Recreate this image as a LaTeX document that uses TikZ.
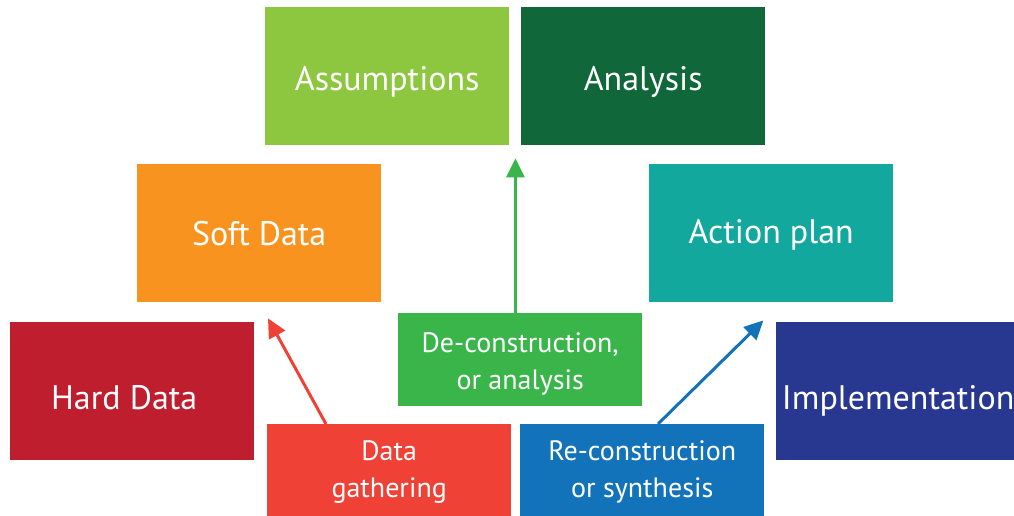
\documentclass[tikz,border=0pt]{standalone}
\usepackage{fontspec}
\setmainfont{PT Sans}
\usetikzlibrary{arrows.meta,calc}
\definecolor{cAss}{HTML}{8DC63F}
\definecolor{cAna}{HTML}{10673A}
\definecolor{cSoft}{HTML}{F7931E}
\definecolor{cAct}{HTML}{13A89E}
\definecolor{cHard}{HTML}{BE1E2D}
\definecolor{cImp}{HTML}{283891}
\definecolor{cDe}{HTML}{39B54A}
\definecolor{cDg}{HTML}{EF4136}
\definecolor{cRe}{HTML}{1273BA}
\tikzset{
  bigbox/.style={fill=#1, draw=none, inner sep=0pt, anchor=north west,
    minimum width=244pt, minimum height=138pt},
  smallbox/.style={fill=#1, draw=none, inner sep=0pt, anchor=north west,
    minimum width=244pt, minimum height=93pt},
  bigtext/.style={text=white, inner sep=0pt, align=center, font=\fontsize{34}{40}\selectfont},
  smalltext/.style={text=white, inner sep=0pt, align=center, font=\fontsize{28}{37}\selectfont},
  conn/.style={draw=#1, line width=3pt, -{Triangle[length=19pt,width=18pt]}}
}
\begin{document}
\begin{tikzpicture}[x=1pt,y=-1pt]
\useasboundingbox (0,0) rectangle (1014,516);
\begin{scope}
\clip (0,0) rectangle (1014,516);
\node[bigbox=cAss, label={[bigtext, yshift=-6pt]center:Assumptions}] (ass) at (265,7) {};
\node[bigbox=cAna, label={[bigtext, yshift=-6pt]center:Analysis}] (ana) at (521,7) {};
\node[bigbox=cSoft, label={[bigtext]center:Soft Data}] (soft) at (137,164) {};
\node[bigbox=cAct, label={[bigtext, yshift=-2pt]center:Action plan}] (act) at (649,164) {};
\node[bigbox=cHard, label={[bigtext, yshift=-6pt, xshift=-8pt]center:Hard Data}] (hard) at (10,322) {};
\node[bigbox=cImp, minimum width=240pt, label={[bigtext, yshift=-10pt, xshift=2pt]center:Implementation}] (imp) at (776,322) {};
\node[smallbox=cDe, label={[smalltext, yshift=-4pt]center:De-construction,\\or analysis}] (de) at (398,313) {};
\node[smallbox=cDg, label={[smalltext, yshift=-1pt]center:Data\\gathering}] (dg) at (267,424) {};
\node[smallbox=cRe, label={[smalltext, yshift=-1pt]center:Re-construction\\or synthesis}] (re) at (520,424) {};
\end{scope}
\coordinate (redtip) at ($(soft.south west)+(131,16)$);
\coordinate (greentip) at ($(ass.south east)+(6,13)$);
\coordinate (bluetip) at ($(act.south east)+(-130,18)$);
\draw[conn=cDg] ($(dg.north west)+(59,0)$) -- (redtip);
\draw[conn=cDe] (de.north -| greentip) -- (greentip);
\draw[conn=cRe] ($(re.north west)+(138,0)$) -- (bluetip);
\end{tikzpicture}
\end{document}
